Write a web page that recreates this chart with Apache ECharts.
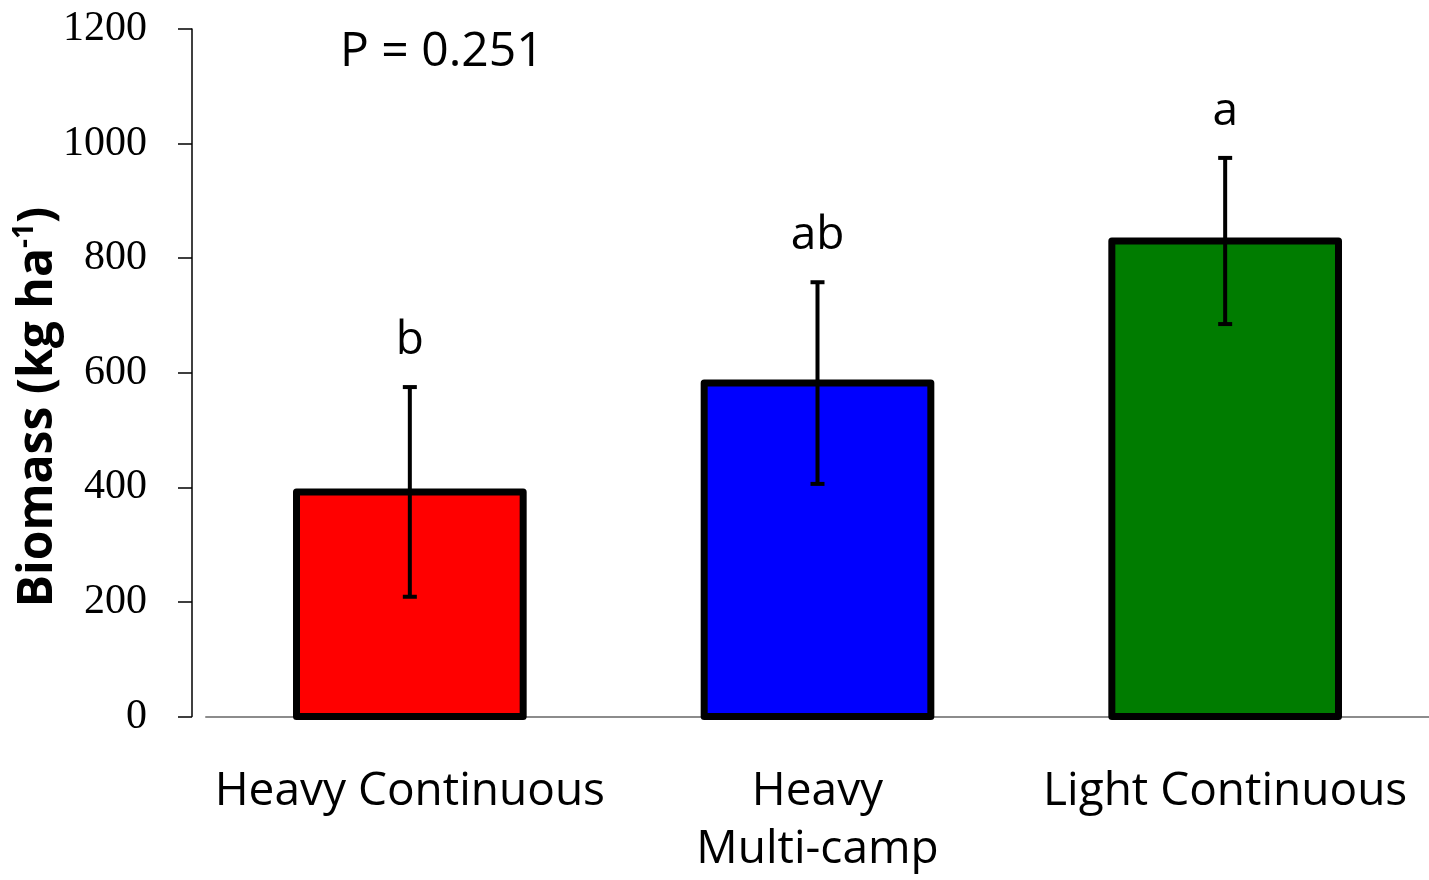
<!DOCTYPE html>
<html>
<head>
<meta charset="utf-8">
<script src="https://cdn.jsdelivr.net/npm/echarts@6/dist/echarts.min.js"></script>
<style>
html,body{margin:0;padding:0;background:#fff;}
#chart{width:1429px;height:880px;}
</style>
</head>
<body>
<div id="chart"></div>
<script>
const categories = ['Heavy Continuous', 'Heavy\nMulti-camp', 'Light Continuous'];
const biomass = [392, 582, 830];
const stdErr = [183, 176, 145];
const letters = ['b', 'ab', 'a'];
const barColors = ['#FF0000', '#0000FF', '#007C00'];
const yMin = 0, yMax = 1200, yInterval = 200;
const pText = 'P = 0.251';

const sansFont = '"Open Sans", "Noto Sans", sans-serif';
const chart = echarts.init(document.getElementById('chart'));

const barData = biomass.map((v, i) => [i, v]);
const errData = biomass.map((v, i) => [i, v - stdErr[i], v + stdErr[i]]);

chart.setOption({
  animation: false,
  backgroundColor: '#fff',
  grid: { left: 206, right: 0, top: 29, bottom: 163.5 },
  xAxis: {
    type: 'category',
    data: categories,
    axisLine: { lineStyle: { color: '#8c8c8c', width: 2 } },
    axisTick: { show: false },
    axisLabel: {
      color: '#000', fontFamily: sansFont, fontSize: 46, lineHeight: 58,
      margin: 46, interval: 0
    }
  },
  yAxis: {
    type: 'value', min: yMin, max: yMax, interval: yInterval,
    offset: 14,
    axisLine: { show: true, lineStyle: { color: '#000', width: 1.5 } },
    axisTick: { show: true, length: 14, lineStyle: { color: '#000', width: 1.5 } },
    splitLine: { show: false },
    axisLabel: {
      color: '#000', fontFamily: '"Liberation Serif", serif', fontSize: 42, margin: 45,
      formatter: function (v) { return String(v); }
    }
  },
  graphic: [
    {
      type: 'text', left: 340, top: 28,
      style: { text: pText, fill: '#000', font: '48px ' + sansFont }
    },
    {
      type: 'text', x: 38, y: 407, rotation: Math.PI / 2,
      style: {
        text: '{a|Biomass (kg ha}{s|-1}{a|)}',
        align: 'center', verticalAlign: 'middle',
        rich: {
          a: { fontFamily: sansFont, fontSize: 48, fontWeight: 'bold', fill: '#000' },
          s: { fontFamily: sansFont, fontSize: 28, fontWeight: 'bold', fill: '#000', verticalAlign: 'top', padding: [0, 0, 26, 0] }
        }
      }
    }
  ],
  series: [
    {
      type: 'custom',
      data: barData,
      z: 2,
      renderItem: function (params, api) {
        const i = api.value(0);
        const top = api.coord([i, api.value(1)]);
        const base = api.coord([i, 0]);
        const w = api.size([1, 0])[0] * 0.556;
        return {
          type: 'rect',
          shape: { x: top[0] - w / 2, y: top[1], width: w, height: base[1] - top[1] },
          style: { fill: barColors[params.dataIndex], stroke: '#000', lineWidth: 7, lineJoin: 'round' }
        };
      }
    },
    {
      type: 'custom',
      data: errData,
      z: 5,
      renderItem: function (params, api) {
        const x = api.value(0);
        const lo = api.coord([x, api.value(1)]);
        const hi = api.coord([x, api.value(2)]);
        const cap = 7;
        const st = { stroke: '#000', lineWidth: 4 };
        return {
          type: 'group',
          children: [
            { type: 'line', shape: { x1: hi[0], y1: hi[1], x2: lo[0], y2: lo[1] }, style: st },
            { type: 'line', shape: { x1: hi[0] - cap, y1: hi[1], x2: hi[0] + cap, y2: hi[1] }, style: st },
            { type: 'line', shape: { x1: lo[0] - cap, y1: lo[1], x2: lo[0] + cap, y2: lo[1] }, style: st },
            {
              type: 'text',
              style: {
                x: hi[0], y: hi[1] - 46,
                text: letters[params.dataIndex],
                align: 'center', verticalAlign: 'middle',
                font: '46px ' + sansFont, fill: '#000'
              }
            }
          ]
        };
      }
    }
  ]
});
</script>
</body>
</html>
